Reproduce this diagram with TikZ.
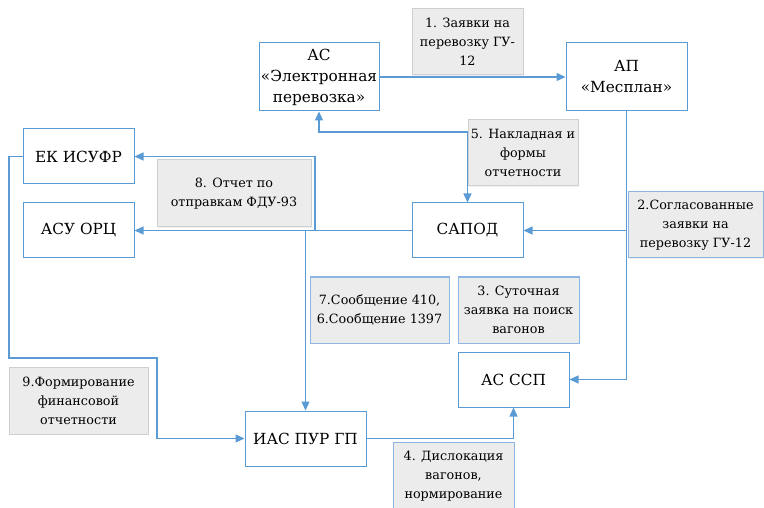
\documentclass[tikz,border=0pt]{standalone}
\usepackage{fontspec}
\setmainfont{DejaVu Serif}[Scale=0.85, Ligatures=TeX]
\usetikzlibrary{arrows.meta,shadows}
\definecolor{lineblue}{HTML}{5B9BD5}
\definecolor{lblgray}{HTML}{ECECEC}
\definecolor{lblborder}{HTML}{CFCFCF}
\definecolor{lblblue}{HTML}{8DB7E2}
\tikzset{
  sysbox/.style={draw=lineblue, line width=1pt, fill=white, align=center,
    font=\rmfamily\fontsize{18}{21}\selectfont, inner sep=0pt},
  lbl/.style={fill=lblgray, align=center, inner sep=0pt,
    font=\rmfamily\fontsize{15}{19}\selectfont,
    drop shadow={opacity=0.12, shadow xshift=1.2pt, shadow yshift=-1.2pt}},
  lblg/.style={lbl, draw=lblborder, line width=1pt},
  lblb/.style={lbl, draw=lblblue, line width=1pt},
  conn/.style={draw=lineblue, line width=1.3pt, -{Triangle[length=9pt,width=8pt]}},
  connb/.style={draw=lineblue, line width=1.3pt, {Triangle[length=9pt,width=8pt]}-{Triangle[length=9pt,width=8pt]}}
}
\begin{document}
\begin{tikzpicture}[x=1pt,y=-1pt]
\useasboundingbox (0,0) rectangle (764,508);
% systems
\node[sysbox, minimum width=120pt, minimum height=68pt] (as) at (319,77) {АС\\«Электронная\\перевозка»};
\node[sysbox, minimum width=121pt, minimum height=68pt] (ap) at (626.5,77) {АП\\«Месплан»};
\node[sysbox, minimum width=111pt, minimum height=55pt] (ek) at (78.5,156.5) {ЕК ИСУФР};
\node[sysbox, minimum width=111pt, minimum height=55pt] (asu) at (78.5,230.5) {АСУ ОРЦ};
\node[sysbox, minimum width=111pt, minimum height=55pt] (sapod) at (467.5,230.5) {САПОД};
\node[sysbox, minimum width=111pt, minimum height=55pt] (ssp) at (513.5,379.5) {АС ССП};
\node[sysbox, minimum width=121pt, minimum height=55pt] (ias) at (305.5,438.5) {ИАС ПУР ГП};
% junction coordinates
\coordinate (apj) at (ap.south |- sapod.east);
\coordinate (apc) at (ap.south |- ssp.east);
\coordinate (ekj) at (315,230.5);
\coordinate (iasj) at (ias.north |- sapod.west);
\coordinate (asb) at (319,132);
\coordinate (sapt) at (467.5,132);
\coordinate (l1) at (9,156.5);
\coordinate (l2) at (9,358);
\coordinate (l3) at (157,358);
\coordinate (l4) at (157,438.5);
\coordinate (r1) at (ssp.south |- ias.east);
% connectors
\draw[conn] (as.east) -- (ap.west);
\draw[conn] (ap.south) -- (apc) -- (ssp.east);
\draw[conn] (apj) -- (sapod.east);
\draw[conn] (sapod.west) -- (asu.east);
\draw[conn] (ekj) -- (ekj |- ek.east) -- (ek.east);
\draw[conn] (iasj) -- (ias.north);
\draw[connb] (as.south) -- (asb) -- (sapt) -- (sapod.north);
\draw[conn] (ek.west) -- (l1) -- (l2) -- (l3) -- (l4) -- (ias.west);
\draw[conn] (ias.east) -- (r1) -- (ssp.south);
% labels
\node[lblg, minimum width=111pt, minimum height=66pt] (t1) at (467.5,42) {1. Заявки на\\перевозку ГУ-\\12};
\node[lblg, minimum width=110pt, minimum height=66pt] (t5) at (523,153) {5. Накладная и\\формы\\отчетности};
\node[lblg, minimum width=154pt, minimum height=67pt] (t8) at (234,193.5) {8. Отчет по\\отправкам ФДУ-93};
\node[lblb, minimum width=135pt, minimum height=66pt] (t2) at (695.5,225) {2.Согласованные\\заявки на\\перевозку ГУ-12};
\node[lblb, minimum width=139pt, minimum height=66pt] (t76) at (379.5,310) {7.Сообщение 410,\\6.Сообщение 1397};
\node[lblb, minimum width=121pt, minimum height=66pt] (t3) at (518.5,310) {3. Суточная\\заявка на поиск\\вагонов};
\node[lblg, minimum width=139pt, minimum height=67pt] (t9) at (78.5,400.5) {9.Формирование\\финансовой\\отчетности};
\node[lblb, minimum width=121pt, minimum height=68pt] (t4) at (453.5,476) {4. Дислокация\\вагонов,\\нормирование};
\end{tikzpicture}
\end{document}
